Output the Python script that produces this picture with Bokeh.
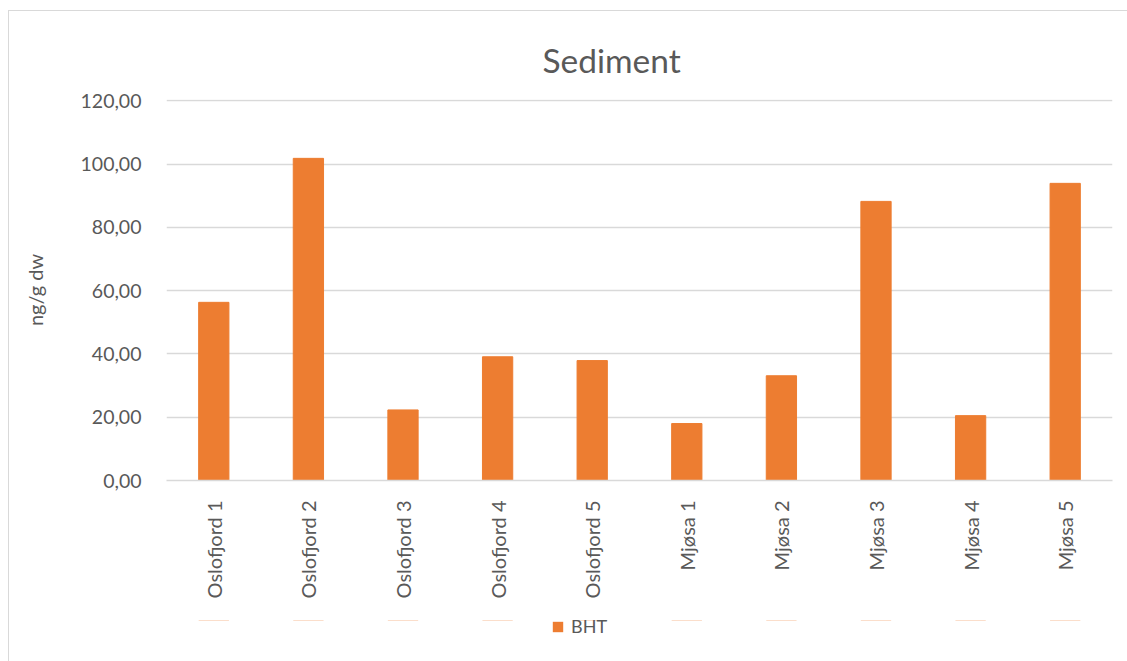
import math
from bokeh.plotting import figure
from bokeh.layouts import column
from bokeh.models import ColumnDataSource, FactorRange, Range1d, FixedTicker, Legend, LegendItem
from bokeh.embed import file_html
from bokeh.resources import INLINE

# ---- data ----
categories = ["Oslofjord 1", "Oslofjord 2", "Oslofjord 3", "Oslofjord 4", "Oslofjord 5",
              "Mjøsa 1", "Mjøsa 2", "Mjøsa 3", "Mjøsa 4", "Mjøsa 5"]
bht_values = [56.3, 101.8, 22.3, 39.1, 37.9, 18.0, 33.1, 88.2, 20.5, 93.9]
y_ticks = [0, 20, 40, 60, 80, 100, 120]
y_tick_labels = ["0,00", "20,00", "40,00", "60,00", "80,00", "100,00", "120,00"]
series_name = "BHT"
title_text = "Sediment"
y_label = "ng/g dw"

FONT = "Lato"
GRAY = "#595959"
ORANGE = "#ED7D31"

source = ColumnDataSource(data=dict(cat=categories, val=bht_values))
x_range = FactorRange(factors=categories, range_padding=0)

p = figure(
    width=1118, height=609,
    x_range=x_range,
    y_range=Range1d(0, 120.4),
    output_backend="svg", toolbar_location=None,
    min_border_left=157, min_border_right=15, min_border_top=88, min_border_bottom=140,
)

bars = p.vbar(x="cat", top="val", width=0.32, source=source,
              fill_color=ORANGE, line_color=ORANGE)

# title
p.title.text = title_text
p.title.align = "left"
p.title.offset = 376
p.title.text_font = FONT
p.title.text_font_size = "33.5px"
p.title.text_font_style = "normal"
p.title.text_color = GRAY
p.title.standoff = 40

# y axis
p.yaxis.ticker = FixedTicker(ticks=y_ticks)
p.yaxis.major_label_overrides = {t: l for t, l in zip(y_ticks, y_tick_labels)}
p.yaxis.axis_line_color = None
p.yaxis.major_tick_line_color = None
p.yaxis.minor_tick_line_color = None
p.yaxis.major_label_text_font = FONT
p.yaxis.major_label_text_font_size = "19.5px"
p.yaxis.major_label_text_color = GRAY
p.yaxis.major_label_standoff = 19
p.yaxis.axis_label = y_label
p.yaxis.axis_label_text_font = FONT
p.yaxis.axis_label_text_font_size = "20px"
p.yaxis.axis_label_text_font_style = "normal"
p.yaxis.axis_label_text_color = GRAY
p.yaxis.axis_label_standoff = 31

# x axis
p.xaxis.axis_line_color = "#d9d9d9"
p.xaxis.axis_line_width = 1.5
p.xaxis.major_tick_line_color = None
p.xaxis.minor_tick_line_color = None
p.xaxis.major_label_orientation = math.pi / 2
p.xaxis.major_label_text_font = FONT
p.xaxis.major_label_text_font_size = "20px"
p.xaxis.major_label_text_color = GRAY
p.xaxis.major_label_standoff = 14

# grid
p.xgrid.grid_line_color = None
p.ygrid.grid_line_color = "#d9d9d9"
p.ygrid.grid_line_width = 1.5
p.outline_line_color = None

# legend strip below the chart (holds the series key; its bars lie outside its view)
leg_fig = figure(
    width=1118, height=41,
    x_range=x_range, y_range=Range1d(-20, -10),
    x_axis_type=None, y_axis_type=None,
    output_backend="svg", toolbar_location=None,
    min_border_left=157, min_border_right=15, min_border_top=0, min_border_bottom=0,
)
leg_fig.outline_line_color = None
leg_fig.xgrid.visible = False
leg_fig.ygrid.visible = False
key_renderer = leg_fig.vbar(x="cat", top="val", width=0.32, source=source,
                            fill_color=ORANGE, line_color=None)

legend = Legend(items=[LegendItem(label=series_name, renderers=[key_renderer])],
                location=(385, 24), orientation="horizontal",
                padding=0, margin=0, border_line_color=None, background_fill_alpha=0,
                glyph_width=13, glyph_height=13, label_height=14,
                label_standoff=7, label_text_font=FONT, label_text_font_size="18px",
                label_text_color=GRAY)
leg_fig.add_layout(legend, "center")

layout = column(p, leg_fig, spacing=0)
layout.styles = {"margin-left": "8px", "margin-top": "10px",
                 "border-left": "1px solid #d9d9d9", "border-top": "1px solid #d9d9d9"}

open("out.html", "w").write(file_html(layout, INLINE))
